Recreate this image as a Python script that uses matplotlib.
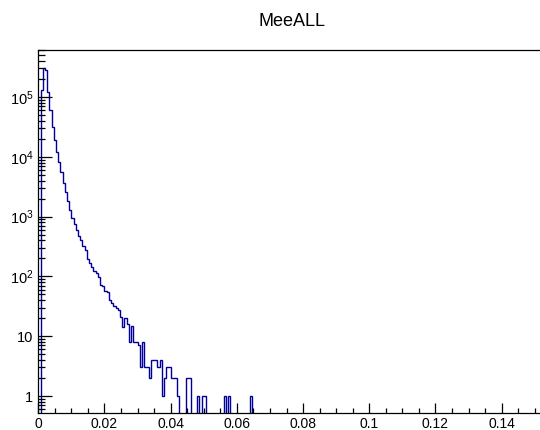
import numpy as np
import matplotlib
matplotlib.use("Agg")
import matplotlib.pyplot as plt
from matplotlib.ticker import FixedLocator, FuncFormatter, LogLocator, MultipleLocator, NullFormatter

# MeeALL histogram: 300 bins over 0..0.2, only 0..~0.152 is visible
bin_width = 0.2 / 300
counts = [
    0, 130000, 310000, 280000, 120000, 60000, 32000, 19000, 12000, 8200,
    5600, 3700, 2600, 1800, 1300, 950, 740, 600, 470, 400,
    320, 275, 195, 165, 145, 125, 112, 98, 72, 70,
    58, 55, 41, 36, 32, 30, 27, 21, 14, 20,
    16, 8, 15, 8, 8, 7, 3, 8, 3, 3,
    2, 4, 4, 4, 3, 4, 1, 2, 3, 3,
    2, 2, 2, 1, 0, 0, 0, 2, 2, 0,
    0, 0, 1, 0, 1, 1, 0, 0, 0, 0,
    0, 0, 0, 0, 1, 0, 1, 0, 0, 0,
    0, 0, 0, 0, 0, 0, 1,
]
counts = counts + [0] * (230 - len(counts))
x_ticks = [0, 0.02, 0.04, 0.06, 0.08, 0.1, 0.12, 0.14]
x_tick_labels = ["0", "0.02", "0.04", "0.06", "0.08", "0.1", "0.12", "0.14"]
y_ticks = [1, 10, 1e2, 1e3, 1e4, 1e5]
y_tick_labels = ["1", "10", r"$10^{2}$", r"$10^{3}$", r"$10^{4}$", r"$10^{5}$"]
title = "MeeALL"

plt.rcParams['font.family'] = ['Liberation Sans', 'DejaVu Sans']
plt.rcParams['mathtext.fontset'] = 'custom'
plt.rcParams['mathtext.rm'] = 'Liberation Sans'
plt.rcParams['mathtext.it'] = 'Liberation Sans'

fig = plt.figure(figsize=(5.4, 4.3), dpi=100)
ax = fig.add_axes([38.3 / 540, (430 - 413) / 430, 1 - 38.3 / 540, (413 - 50) / 430])

edges = np.arange(len(counts) + 1) * bin_width
ax.stairs(counts, edges, color='#000099', linewidth=1.0)

ax.set_yscale('log')
ax.set_xlim(0, 0.1516)
ax.set_ylim(0.52, 6.1e5)

ax.xaxis.set_major_locator(FixedLocator(x_ticks))
ax.set_xticklabels(x_tick_labels)
ax.xaxis.set_minor_locator(MultipleLocator(0.005))

ax.yaxis.set_major_locator(FixedLocator(y_ticks))
ax.set_yticklabels(y_tick_labels)
ax.yaxis.set_minor_locator(LogLocator(base=10, subs=np.arange(2, 10), numticks=20))
ax.yaxis.set_minor_formatter(NullFormatter())

ax.tick_params(axis='x', which='major', direction='in', length=7.5, width=0.9, pad=3.0, labelsize=10)
ax.tick_params(axis='x', which='minor', direction='in', length=3.8, width=0.9)
ax.tick_params(axis='y', which='major', direction='in', length=10, width=0.9, pad=3.5, labelsize=10.5)
ax.tick_params(axis='y', which='minor', direction='in', length=5, width=0.9)

ax.spines['right'].set_visible(False)
for s in ['left', 'bottom', 'top']:
    ax.spines[s].set_linewidth(0.9)

fig.text(292 / 540, 1 - 21 / 430, title, ha='center', va='center', fontsize=13)

fig.savefig("out.png", dpi=100)
